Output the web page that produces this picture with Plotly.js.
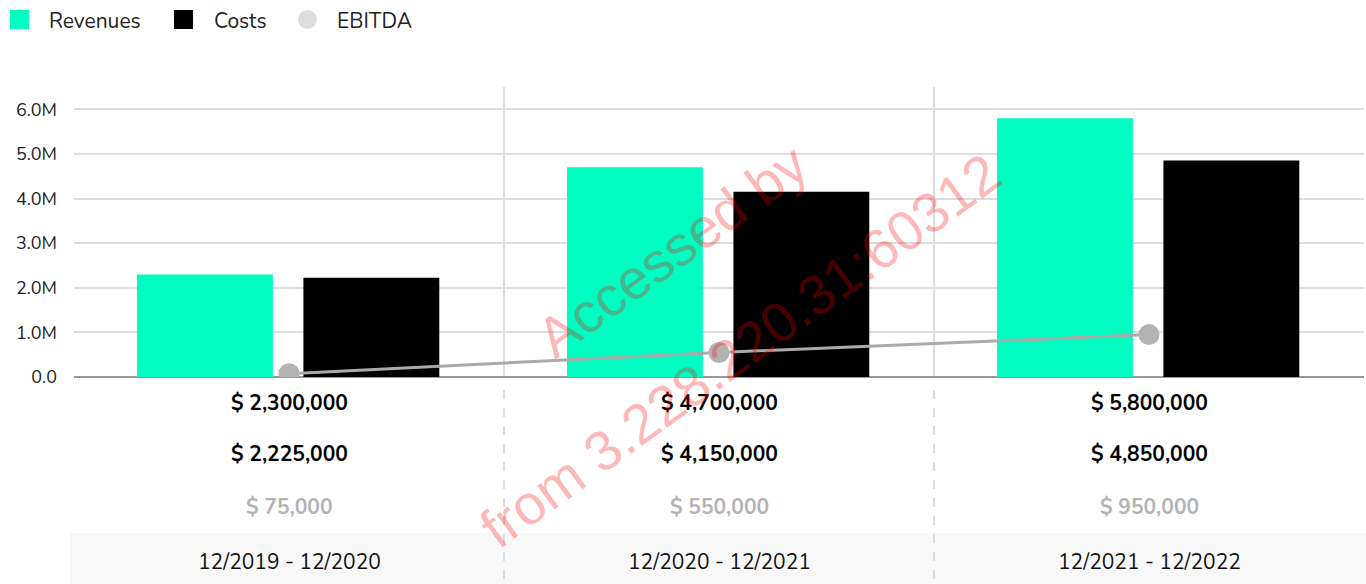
<!DOCTYPE html>
<html>
<head>
<meta charset="utf-8">
<script src="https://cdn.plot.ly/plotly-3.0.1.min.js"></script>
<style>
  html, body { margin: 0; padding: 0; background: #ffffff; }
  #chart { width: 1366px; height: 584px; }
</style>
</head>
<body>
<div id="chart"></div>
<script>
// ---- data ----
const periods = ["12/2019 - 12/2020", "12/2020 - 12/2021", "12/2021 - 12/2022"];
const revenues = [2300000, 4700000, 5800000];
const costs = [2225000, 4150000, 4850000];
const ebitda = [75000, 550000, 950000];
const yTickVals = [0, 1000000, 2000000, 3000000, 4000000, 5000000, 6000000];
const yTickText = ["0.0", "1.0M", "2.0M", "3.0M", "4.0M", "5.0M", "6.0M"];
const seriesNames = ["Revenues", "Costs", "EBITDA"];

// ---- layout helpers (pixel -> paper) ----
const W = 1366, H = 584;
const mL = 74, mR = 2, mT = 87, mB = 207;
const plotW = W - mL - mR, plotH = H - mT - mB;
const px = x => (x - mL) / plotW;
const py = y => (H - mB - y) / plotH;

const FONT = "Nunito, Lato, 'Open Sans', sans-serif";
const colRev = "#00fdc1", colCost = "#000000", colEb = "#b3b3b3";
const fmt = v => "$ " + v.toLocaleString("en-US");

const BAR_W = 0.316;
const traces = [
  { type: "bar", name: seriesNames[0], x: periods, y: revenues, width: BAR_W, offset: -0.3535,
    marker: { color: colRev }, hoverinfo: "skip" },
  { type: "bar", name: seriesNames[1], x: periods, y: costs, width: BAR_W, offset: 0.0335,
    marker: { color: colCost }, hoverinfo: "skip" },
  { type: "scatter", mode: "lines+markers", name: seriesNames[2], x: periods, y: ebitda,
    line: { color: "#aaaaaa", width: 3 }, marker: { color: colEb, size: 21 }, hoverinfo: "skip" }
];

const annotations = [];
const shapes = [];

// table rows below the plot
const rows = [
  { vals: revenues, y: 403, color: "#000000" },
  { vals: costs, y: 454, color: "#000000" },
  { vals: ebitda, y: 507, color: "#b3b3b3" }
];
rows.forEach(r => {
  r.vals.forEach((v, i) => {
    annotations.push({ xref: "x", yref: "paper", x: i, y: py(r.y), text: "<b>" + fmt(v) + "</b>",
      showarrow: false, xanchor: "center", yanchor: "middle",
      font: { family: FONT, size: 21, color: r.color } });
  });
});
periods.forEach((p, i) => {
  annotations.push({ xref: "x", yref: "paper", x: i, y: py(562), text: p,
    showarrow: false, xanchor: "center", yanchor: "middle",
    font: { family: FONT, size: 21, color: "#111111" } });
});

// period band background
shapes.push({ type: "rect", xref: "paper", yref: "paper", x0: px(70), x1: px(1366), y0: py(584), y1: py(533),
  fillcolor: "#f8f8f8", line: { width: 0 }, layer: "below" });

// category separators
for (let i = 0; i < periods.length - 1; i++) {
  shapes.push({ type: "line", xref: "x", yref: "paper", x0: i + 0.5, x1: i + 0.5, y0: 0, y1: 1,
    line: { color: "#dddddd", width: 2 }, layer: "below" });
  shapes.push({ type: "line", xref: "x", yref: "paper", x0: i + 0.5, x1: i + 0.5, y0: py(390), y1: py(584),
    line: { color: "#dcdcdc", width: 2, dash: "dash" }, layer: "above" });
}

// custom legend
const legendItems = [
  { name: seriesNames[0], color: colRev, shape: "rect", x0: 10, tx: 47 },
  { name: seriesNames[1], color: colCost, shape: "rect", x0: 174, tx: 212 },
  { name: seriesNames[2], color: "#dddddd", shape: "circle", x0: 298, tx: 335 }
];
legendItems.forEach(it => {
  shapes.push({ type: it.shape, xref: "paper", yref: "paper", x0: px(it.x0), x1: px(it.x0 + 19),
    y0: py(29), y1: py(10), fillcolor: it.color, line: { width: 0 } });
  annotations.push({ xref: "paper", yref: "paper", x: px(it.tx), y: py(21), text: it.name,
    showarrow: false, xanchor: "left", yanchor: "middle",
    font: { family: FONT, size: 21, color: "#222222" } });
});

// watermark
annotations.push({ xref: "paper", yref: "paper", x: px(672), y: py(250), text: "Accessed by",
  showarrow: false, textangle: -36, xanchor: "center", yanchor: "middle",
  font: { family: "'Liberation Sans', Arial, sans-serif", size: 56, color: "rgba(255,0,0,0.28)" } });
annotations.push({ xref: "paper", yref: "paper", x: px(740), y: py(350), text: "from 3.228.220.31:60312",
  showarrow: false, textangle: -36, xanchor: "center", yanchor: "middle",
  font: { family: "'Liberation Sans', Arial, sans-serif", size: 56, color: "rgba(255,0,0,0.28)" } });

const layout = {
  width: W, height: H,
  margin: { l: mL, r: mR, t: mT, b: mB, pad: 0 },
  paper_bgcolor: "#ffffff", plot_bgcolor: "#ffffff",
  showlegend: false,
  barmode: "overlay",
  font: { family: FONT, size: 16, color: "#222222" },
  xaxis: { type: "category", range: [-0.5, 2.5], showticklabels: false, showgrid: false,
    zeroline: false, showline: false, ticks: "", fixedrange: true },
  yaxis: { range: [0, 6500000], tickvals: yTickVals, ticktext: yTickText,
    showgrid: true, gridcolor: "#dddddd", gridwidth: 2,
    zeroline: true, zerolinecolor: "#999999", zerolinewidth: 2,
    showline: false, ticks: "", ticklabelstandoff: 16,
    tickfont: { family: FONT, size: 18, color: "#222222" }, fixedrange: true },
  shapes: shapes,
  annotations: annotations
};

Plotly.newPlot("chart", traces, layout, { displayModeBar: false, staticPlot: true });
</script>
</body>
</html>
